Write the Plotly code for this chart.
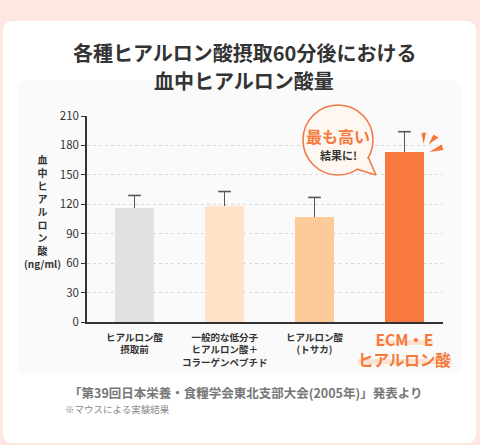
import math
import plotly.graph_objects as go

# ---- data ----
categories = ["ヒアルロン酸<br>摂取前",
              "一般的な低分子<br>ヒアルロン酸＋<br>コラーゲンペプチド",
              "ヒアルロン酸<br>(トサカ)",
              "ECM・E<br>ヒアルロン酸"]
values = [116, 118, 107, 173]
errors = [13, 15, 20, 21]
bar_colors = ["#e1e1e1", "#fee3c8", "#fdcb9a", "#f7793f"]
y_ticks = [0, 30, 60, 90, 120, 150, 180, 210]
title_lines = ["各種ヒアルロン酸摂取60分後における", "血中ヒアルロン酸量"]
y_title_chars = ["血", "中", "ヒ", "ア", "ル", "ロ", "ン", "酸"]
y_unit = "(ng/ml)"
callout_main = "最も高い"
callout_sub = "結果に!"
source_text = "「第39回日本栄養・食糧学会東北支部大会(2005年)」発表より"
note_text = "※マウスによる実験結果"

W, H = 480, 445
PL, PR, PT, PB = 87, 443, 116, 322
FONT = "Noto Sans CJK JP"
ORANGE = "#f47a3c"
ERR = "#555555"


def px(x):
    return (x - PL) / (PR - PL)


def py(y):
    return (PB - y) / (PB - PT)


def rrect(x0, y0, x1, y1, r):
    pts = [
        ("M", [(x0 + r, y0)]), ("L", [(x1 - r, y0)]), ("Q", [(x1, y0), (x1, y0 + r)]),
        ("L", [(x1, y1 - r)]), ("Q", [(x1, y1), (x1 - r, y1)]),
        ("L", [(x0 + r, y1)]), ("Q", [(x0, y1), (x0, y1 - r)]),
        ("L", [(x0, y0 + r)]), ("Q", [(x0, y0), (x0 + r, y0)]),
    ]
    s = ""
    for cmd, ps in pts:
        s += cmd + " " + " ".join(f"{px(a):.5f},{py(b):.5f}" for a, b in ps) + " "
    return s + "Z"


def poly(points):
    return "M " + " L ".join(f"{px(a):.5f},{py(b):.5f}" for a, b in points) + " Z"


xs = list(range(len(values)))
fig = go.Figure(go.Bar(
    x=xs, y=values,
    marker=dict(color=bar_colors, line=dict(width=0)),
    width=0.433,
    error_y=dict(type="data", array=errors, arrayminus=[0] * len(values),
                 symmetric=False, color=ERR, thickness=1.6, width=0),
    hoverinfo="skip",
))
# error-bar caps (top only)
fig.add_trace(go.Scatter(
    x=xs, y=[v + e for v, e in zip(values, errors)], mode="markers",
    marker=dict(symbol="line-ew-open", size=9, color=ERR,
                line=dict(color=ERR, width=1.6)),
    hoverinfo="skip",
))

shapes = []
# card and faint panel
shapes.append(dict(type="path", xref="paper", yref="paper", layer="below",
                   path=rrect(3, 21, 476, 443, 10), fillcolor="white", line=dict(width=0)))
shapes.append(dict(type="path", xref="paper", yref="paper", layer="below",
                   path=rrect(17, 80, 461, 375, 8), fillcolor="#fafafa", line=dict(width=0)))
# highlight behind ECM label
shapes.append(dict(type="rect", xref="paper", yref="paper", layer="below",
                   x0=px(377), x1=px(433), y0=py(345), y1=py(340),
                   fillcolor="#fde2cf", line=dict(width=0)))
shapes.append(dict(type="rect", xref="paper", yref="paper", layer="below",
                   x0=px(358), x1=px(452), y0=py(364), y1=py(359),
                   fillcolor="#fde2cf", line=dict(width=0)))
# speech bubble
cx, cy, r = 338, 140, 35
shapes.append(dict(type="circle", xref="paper", yref="paper", layer="above",
                   x0=px(cx - r), x1=px(cx + r), y0=py(cy + r), y1=py(cy - r),
                   fillcolor="#fff7f1", line=dict(color="#ef7a48", width=1.6)))
b1 = (cx + (r - 2) * math.cos(math.radians(30)), cy + (r - 2) * math.sin(math.radians(30)))
b2 = (cx + (r - 2) * math.cos(math.radians(57)), cy + (r - 2) * math.sin(math.radians(57)))
o1 = (cx + r * math.cos(math.radians(30)), cy + r * math.sin(math.radians(30)))
o2 = (cx + r * math.cos(math.radians(57)), cy + r * math.sin(math.radians(57)))
tip = (376, 175)
shapes.append(dict(type="path", xref="paper", yref="paper", layer="above",
                   path=poly([b1, tip, b2]), fillcolor="#fff7f1", line=dict(width=0)))
for o in (o1, o2):
    shapes.append(dict(type="line", xref="paper", yref="paper", layer="above",
                       x0=px(o[0]), y0=py(o[1]), x1=px(tip[0]), y1=py(tip[1]),
                       line=dict(color="#ef7a48", width=1.6)))
# burst wedges
for tri in ([(421.5, 133), (426, 132.5), (423.6, 144)],
            [(433.5, 134.5), (438.5, 137.5), (428.5, 144.5)],
            [(441.5, 144.5), (443.5, 150), (429.3, 152)]):
    shapes.append(dict(type="path", xref="paper", yref="paper", layer="above",
                       path=poly(tri), fillcolor="#f47634", line=dict(width=0)))

ann = []
# title
ann.append(dict(text="<b>" + title_lines[0] + "</b>", x=px(244), y=py(53),
                font=dict(size=20, color="#333333", family=FONT)))
ann.append(dict(text="<b>" + title_lines[1] + "</b>", x=px(244), y=py(80),
                font=dict(size=20, color="#333333", family=FONT)))
# y-axis title (stacked characters, one text block)
ann.append(dict(text="<b>" + "<br>".join(y_title_chars + [y_unit]) + "</b>",
                x=px(42), y=py(211),
                font=dict(size=10, color="#333333", family=FONT)))
# category labels
for i, cat in enumerate(categories):
    if i == len(categories) - 1:
        ann.append(dict(text="<b>" + cat + "</b>", x=i, xref="x", y=py(326), yanchor="top",
                        font=dict(size=15.5, color=ORANGE, family=FONT)))
    else:
        ann.append(dict(text="<b>" + cat + "</b>", x=i, xref="x", y=py(328), yanchor="top",
                        font=dict(size=9.5, color="#333333", family=FONT)))
# callout text
ann.append(dict(text="<b>" + callout_main + "</b>", x=px(338), y=py(136),
                font=dict(size=16, color=ORANGE, family=FONT)))
ann.append(dict(text="<b>" + callout_sub + "</b>", x=px(338), y=py(155),
                font=dict(size=11, color="#333333", family=FONT)))
# source
ann.append(dict(text="<b>" + source_text + "</b>", x=px(245), y=py(392),
                font=dict(size=12.5, color="#777777", family=FONT)))
ann.append(dict(text=note_text, x=px(63), y=py(409), xanchor="left",
                font=dict(size=9.5, color="#888888", family=FONT)))

for a in ann:
    a.setdefault("xref", "paper")
    a.setdefault("yref", "paper")
    a.setdefault("showarrow", False)
    a.setdefault("xanchor", "center")
    a.setdefault("yanchor", "middle")

fig.update_layout(
    width=W, height=H,
    margin=dict(l=PL, r=W - PR, t=PT, b=H - PB, pad=0),
    paper_bgcolor="#fde8e1",
    plot_bgcolor="rgba(0,0,0,0)",
    showlegend=False,
    shapes=shapes,
    annotations=ann,
    bargap=0,
    xaxis=dict(range=[-0.528, 3.428], showticklabels=False, showgrid=False,
               zeroline=False, showline=True, linecolor="#333333", linewidth=1.5,
               fixedrange=True),
    yaxis=dict(range=[0, 210], tickvals=y_ticks, ticks="outside", ticklen=4,
               tickcolor="#333333", tickwidth=1, showline=True, linecolor="#333333",
               linewidth=1.5, showgrid=True, gridcolor="#d9d9d9", griddash="dot",
               gridwidth=1, zeroline=False, fixedrange=True,
               tickfont=dict(size=11.5, color="#333333", family=FONT)),
)

fig.write_html("out.html", config={"displayModeBar": False})
